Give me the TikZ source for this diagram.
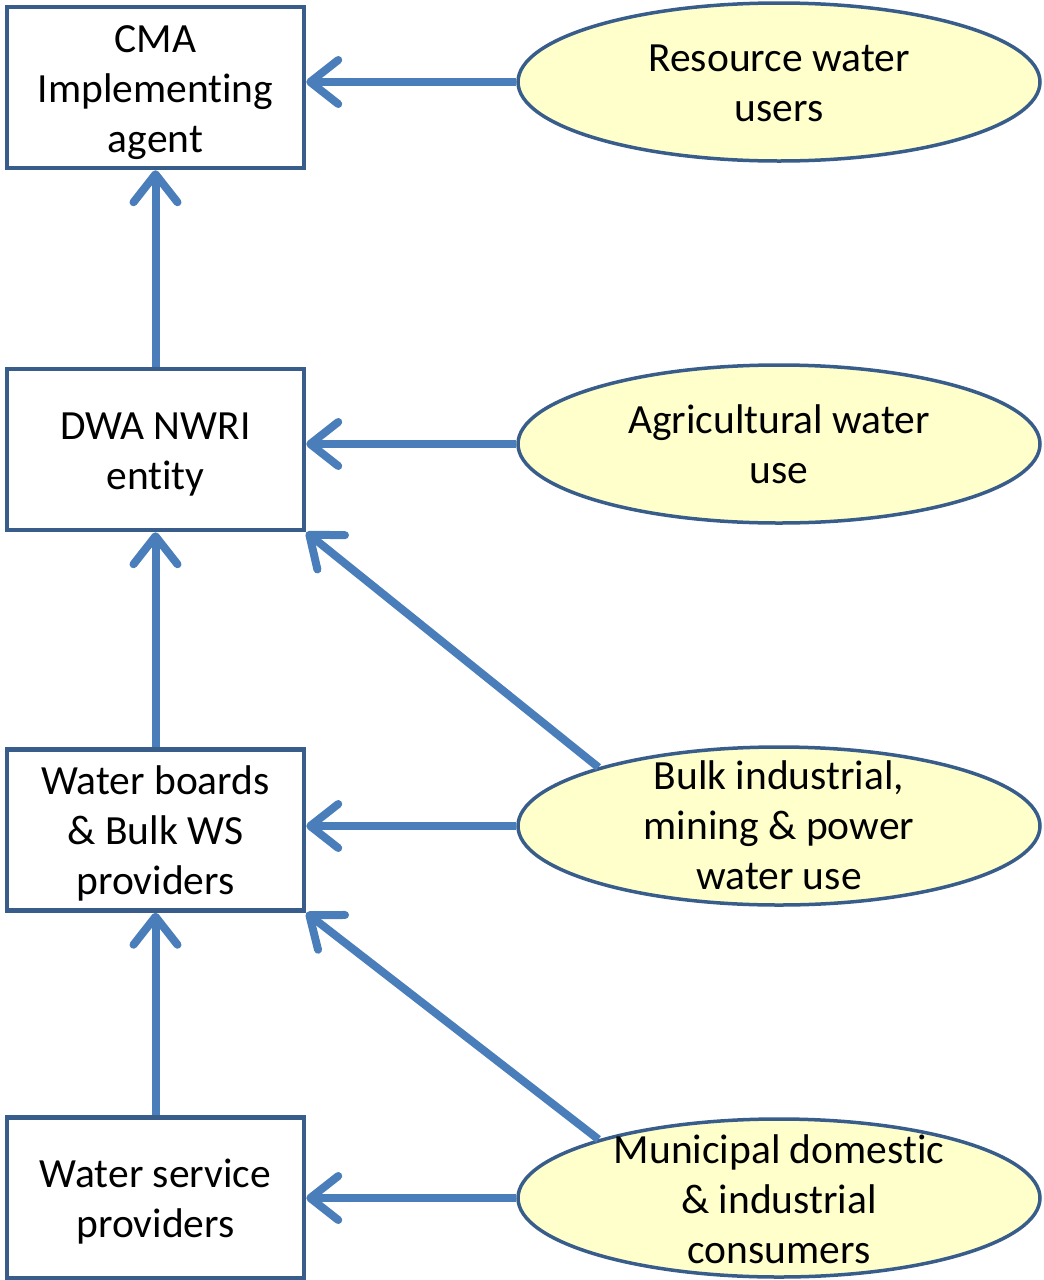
\documentclass[tikz,border=0pt]{standalone}
\usepackage{fontspec}
\setmainfont{Carlito}[Ligatures={NoCommon}]
\usetikzlibrary{arrows.meta,shapes.geometric}
\definecolor{boxline}{HTML}{385D8A}
\definecolor{arrowblue}{HTML}{4A7EBB}
\definecolor{ellfill}{HTML}{FFFFCC}
\begin{document}
\begin{tikzpicture}[x=1pt,y=-1pt,
  box/.style={draw=boxline,line width=4.5pt,minimum width=297pt,minimum height=161pt,inner sep=0pt},
  ell/.style={ellipse,draw=boxline,line width=3.5pt,fill=ellfill,minimum width=522pt,minimum height=158pt,inner sep=0pt},
  txt/.style={align=center,font=\fontsize{41.5}{50}\selectfont,inner sep=0pt},
  conn/.style={draw=arrowblue,line width=8pt,-{Straight Barb[length=28pt,width=44pt,line cap=round,round]}}]
\useasboundingbox (0,0) rectangle (1044,1280);
% boxes
\node[box] (b1) at (155.5,87.5) {};
\node[txt] at (155.5,93) {CMA\\Implementing\\agent};
\node[box] (b2) at (155.5,449.5) {};
\node[txt] at (155.5,455) {DWA NWRI\\entity};
\node[box] (b3) at (155.5,830) {};
\node[txt] at (155.5,833) {Water boards\\\& Bulk WS\\providers};
\node[box] (b4) at (155.5,1198) {};
\node[txt] at (155.5,1202) {Water service\\providers};
% ellipses
\node[ell] (e1) at (779,82) {};
\node[txt] at (779,83) {Resource water\\users};
\node[ell] (e2) at (779,444) {};
\node[txt] at (779,444) {Agricultural water\\use};
\node[ell] (e3) at (779,826) {};
\node[txt] at (779,825) {Bulk industrial,\\mining \& power\\water use};
\node[ell] (e4) at (779,1198) {};
% connectors
\draw[conn] (e1.west) -- (b1.east |- e1.west);
\draw[conn] (e2.west) -- (b2.east |- e2.west);
\draw[conn] (e3.west) -- (b3.east |- e3.west);
\draw[conn] (e4.west) -- (b4.east |- e4.west);
\draw[conn] (b2.north) -- (b1.south);
\draw[conn] (b3.north) -- (b2.south);
\draw[conn] (b4.north) -- (b3.south);
\draw[conn] (e3.162) -- (b2.south east);
\draw[conn] (e4.162) -- (b3.south east);
\node[txt] at (779,1199) {Municipal domestic\\\& industrial\\consumers};
\end{tikzpicture}
\end{document}
